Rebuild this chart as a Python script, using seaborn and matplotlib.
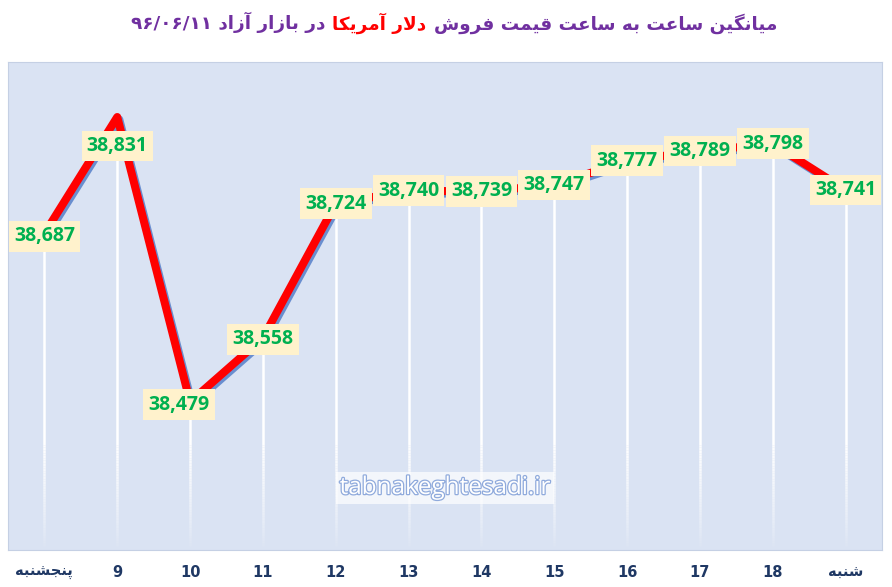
import numpy as np
import matplotlib
matplotlib.use('Agg')
import matplotlib.pyplot as plt
import matplotlib.patheffects as pe
from matplotlib.collections import LineCollection
from matplotlib.offsetbox import TextArea, HPacker, AnchoredOffsetbox
import seaborn as sns

# data
days = ['پنجشنبه', '9', '10', '11', '12', '13', '14', '15', '16', '17', '18', 'شنبه']
prices = [38687, 38831, 38479, 38558, 38724, 38740, 38739, 38747, 38777, 38789, 38798, 38741]
title_left = 'در بازار آزاد ۹۶/۰۶/۱۱'
title_mid = 'دلار آمریکا'
title_right = 'میانگین ساعت به ساعت قیمت فروش'
site = 'tabnakeghtesadi.ir'

# label nudges in points (layout only)
label_dx = [0, 0, -8, 0, 0, 0, 0, 0, 0, 0, 0, 0]
label_dy = [-2, -21, -2, -1, 0, 0, 0, 0, 0, 0, 0, 0]

# --- tiny persian shaper (matplotlib does not join arabic letters) ---
FORMS = {
    'ا': ('\uFE8D', '\uFE8E', None, None),
    'آ': ('\uFE81', '\uFE82', None, None),
    'ب': ('\uFE8F', '\uFE90', '\uFE91', '\uFE92'),
    'پ': ('\uFB56', '\uFB57', '\uFB58', '\uFB59'),
    'ت': ('\uFE95', '\uFE96', '\uFE97', '\uFE98'),
    'ج': ('\uFE9D', '\uFE9E', '\uFE9F', '\uFEA0'),
    'د': ('\uFEA9', '\uFEAA', None, None),
    'ر': ('\uFEAD', '\uFEAE', None, None),
    'ز': ('\uFEAF', '\uFEB0', None, None),
    'س': ('\uFEB1', '\uFEB2', '\uFEB3', '\uFEB4'),
    'ش': ('\uFEB5', '\uFEB6', '\uFEB7', '\uFEB8'),
    'ع': ('\uFEC9', '\uFECA', '\uFECB', '\uFECC'),
    'ف': ('\uFED1', '\uFED2', '\uFED3', '\uFED4'),
    'ق': ('\uFED5', '\uFED6', '\uFED7', '\uFED8'),
    'ک': ('\uFB8E', '\uFB8F', '\uFB90', '\uFB91'),
    'گ': ('\uFB92', '\uFB93', '\uFB94', '\uFB95'),
    'ل': ('\uFEDD', '\uFEDE', '\uFEDF', '\uFEE0'),
    'م': ('\uFEE1', '\uFEE2', '\uFEE3', '\uFEE4'),
    'ن': ('\uFEE5', '\uFEE6', '\uFEE7', '\uFEE8'),
    'ه': ('\uFEE9', '\uFEEA', '\uFEEB', '\uFEEC'),
    'و': ('\uFEED', '\uFEEE', None, None),
    'ی': ('\uFBFC', '\uFBFD', '\uFBFE', '\uFBFF'),
}
LAM_ALEF = {'ا': ('\uFEFB', '\uFEFC'), 'آ': ('\uFEF5', '\uFEF6')}


def shape_word(word):
    out = []
    prev_joins = False
    i = 0
    while i < len(word):
        c = word[i]
        if c not in FORMS:
            out.append(c)
            prev_joins = False
            i += 1
            continue
        if c == 'ل' and i + 1 < len(word) and word[i + 1] in LAM_ALEF:
            iso, fin = LAM_ALEF[word[i + 1]]
            out.append(fin if prev_joins else iso)
            prev_joins = False
            i += 2
            continue
        iso, fin, ini, med = FORMS[c]
        nxt = word[i + 1] if i + 1 < len(word) else None
        next_ok = ini is not None and nxt in FORMS
        if prev_joins and next_ok:
            out.append(med)
        elif prev_joins:
            out.append(fin)
        elif next_ok:
            out.append(ini)
        else:
            out.append(iso)
        prev_joins = next_ok
        i += 1
    return ''.join(reversed(out))


def farsi(text):
    words = text.split(' ')
    return ' '.join(shape_word(w) if any(ch in FORMS for ch in w) else w
                    for w in reversed(words))


fig = plt.figure(figsize=(8.92, 5.87), dpi=100, facecolor='white')
ax = fig.add_axes([8 / 892, 37 / 587, 874 / 892, 488 / 587])
ax.set_facecolor('#DAE3F3')

x = np.arange(len(prices))
ymin, ymax = 38296, 38899

# drop lines, fading out towards the bottom
fade = 130
segs, cols = [], []
for xi, v in zip(x, prices):
    edges = np.linspace(ymin + 5, ymin + fade, 40)
    for a, b in zip(edges[:-1], edges[1:]):
        segs.append([(xi, a), (xi, b)])
        cols.append((1, 1, 1, ((a - ymin) / fade) ** 0.8))
    segs.append([(xi, ymin + fade), (xi, v)])
    cols.append((1, 1, 1, 1))
ax.add_collection(LineCollection(segs, colors=cols, linewidths=1.8, zorder=2))

sns.lineplot(x=x, y=prices, ax=ax, color='#FF0000', linewidth=5.8, zorder=3,
             solid_joinstyle='round', solid_capstyle='butt')
ax.lines[-1].set_path_effects([
    pe.SimpleLineShadow(offset=(1.5, -1.8), shadow_color='#4472C4', alpha=0.75),
    pe.Normal()])

for xi, v, dx, dy in zip(x, prices, label_dx, label_dy):
    ax.annotate(f'{v:,}', (xi, v), xytext=(dx, dy), textcoords='offset points',
                ha='center', va='center', fontsize=14, fontweight='bold',
                family=['Open Sans', 'DejaVu Sans'], color='#00B050', zorder=5,
                bbox=dict(boxstyle='square,pad=0.27', fc='#FFF2CC', ec='none'))

ax.set_xlim(-0.5, len(prices) - 0.5)
ax.set_ylim(ymin, ymax)
ax.set_xticks(x)
ax.set_xticklabels([farsi(d) for d in days], fontsize=10.5, fontweight='bold',
                   color='#1F3864', family=['Liberation Sans Narrow', 'DejaVu Sans'])
ax.tick_params(axis='x', length=0, pad=11)
ax.set_yticks([])
ax.set_xlabel('')
ax.set_ylabel('')
for s in ax.spines.values():
    s.set_color('#C5D0E4')
    s.set_linewidth(0.8)

ax.text(0.5, 0.127, site, transform=ax.transAxes, ha='center', va='center',
        fontsize=17.5, family=['Open Sans', 'DejaVu Sans'], color='white', zorder=4,
        path_effects=[pe.Stroke(linewidth=1.8, foreground='#8FAADC'), pe.Normal()],
        bbox=dict(boxstyle='square,pad=0.15', fc='white', ec='none', alpha=0.7))

# title in three coloured pieces
tp = dict(fontsize=13.2, fontweight='bold', family=['DejaVu Sans'])
parts = [TextArea(farsi(title_left), textprops=dict(color='#7030A0', **tp)),
         TextArea(farsi(title_mid), textprops=dict(color='#FF0000', **tp)),
         TextArea(farsi(title_right), textprops=dict(color='#7030A0', **tp))]
box = HPacker(children=parts, align='baseline', pad=0, sep=5)
anch = AnchoredOffsetbox(loc='center', child=box, frameon=False,
                         bbox_to_anchor=(454 / 892, 1 - 23 / 587),
                         bbox_transform=fig.transFigure, borderpad=0)
fig.add_artist(anch)

fig.savefig('out.png', dpi=100, facecolor='white')
